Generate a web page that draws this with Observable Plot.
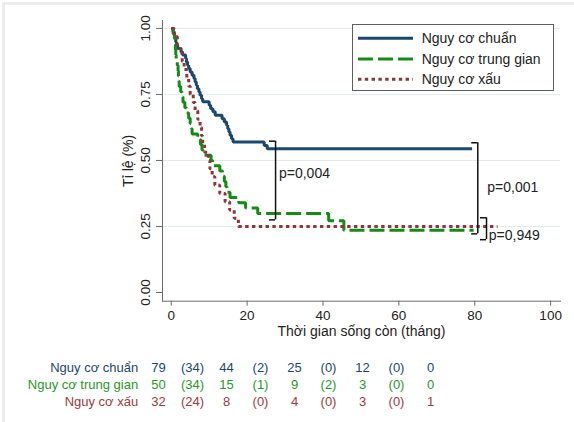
<!DOCTYPE html>
<html>
<head>
<meta charset="utf-8">
<script src="https://cdn.jsdelivr.net/npm/d3@7"></script>
<script src="https://cdn.jsdelivr.net/npm/@observablehq/plot@0.6"></script>
<style>
  body { margin: 0; background: #fff; font-family: "Liberation Sans", Arial, sans-serif; }
  #wrap { position: relative; width: 574px; height: 422px; overflow: hidden; background: #fff; }
  #edge { position: absolute; left: 2px; top: 2px; width: 600px; height: 450px; border-top: 3px solid #ececec; border-left: 3px solid #ececec; pointer-events: none; }
  #legend { position: absolute; left: 352px; top: 24px; width: 202px; height: 67px; box-sizing: border-box; border: 1px solid #5e5e5e; background: #fff; }
  #legend svg { display: block; }
  #chart svg, #risk svg { display: block; }
</style>
</head>
<body>
<div id="wrap">
  <div id="chart"></div>
  <div id="risk"></div>
  <div id="legend"></div>
  <div id="edge"></div>
</div>
<script>
// ---- Series (Kaplan–Meier step curves) ----
const seriesNames = ["Nguy cơ chuẩn", "Nguy cơ trung gian", "Nguy cơ xấu"];
const seriesColors = ["#1a476f", "#168a16", "#90353b"];
const seriesDash = ["none", "15,5", "3.4,3.4"];

const timeChuan = [0,0.5,0.8,1.0,1.2,1.4,1.7,2.6,3.0,3.8,4.0,4.3,4.6,5.0,5.5,6.0,6.3,6.6,6.9,7.3,7.6,8.0,8.3,10.0,10.4,11.0,11.6,13.4,14.0,14.6,14.9,15.2,15.5,15.9,16.3,24.5,25.3,79.3];
const survChuan = [1,0.987,0.975,0.962,0.949,0.937,0.924,0.911,0.899,0.886,0.873,0.861,0.848,0.835,0.823,0.810,0.797,0.785,0.772,0.759,0.747,0.734,0.722,0.709,0.696,0.684,0.671,0.658,0.646,0.633,0.620,0.608,0.595,0.582,0.570,0.557,0.544,0.544];

const timeTrungGian = [0,0.5,0.9,1.0,1.1,1.2,1.3,1.6,1.8,1.9,2.0,2.1,2.5,2.8,3.1,3.6,4.0,4.6,5.0,5.3,5.5,7.0,7.7,8.1,8.4,10.5,10.9,12.8,13.5,14.0,14.4,14.7,15.5,17.8,19.6,22.8,41.5,45.5,79.7];
const survTrungGian = [1,0.98,0.96,0.94,0.92,0.90,0.88,0.86,0.84,0.82,0.80,0.78,0.76,0.74,0.72,0.70,0.68,0.66,0.64,0.62,0.60,0.58,0.56,0.54,0.52,0.50,0.48,0.46,0.44,0.42,0.40,0.38,0.36,0.34,0.32,0.299,0.272,0.236,0.236];

const timeXau = [0,0.8,1.6,2.3,2.9,3.4,4.1,4.6,5.0,5.8,6.3,7.0,7.6,8.0,8.3,8.8,9.8,10.2,10.8,11.5,12.8,14.2,15.4,16.6,17.7,86];
const survXau = [1,0.969,0.938,0.906,0.875,0.844,0.812,0.781,0.75,0.719,0.688,0.656,0.625,0.594,0.562,0.531,0.50,0.469,0.438,0.406,0.375,0.344,0.312,0.281,0.25,0.25];

// ---- Axis ticks and titles ----
const xTicks = [0, 20, 40, 60, 80, 100];
const yTicks = [0, 0.25, 0.5, 0.75, 1];
const xTitle = "Thời gian sống còn (tháng)";
const yTitle = "Tỉ lệ (%)";

// ---- p-value brackets (data coordinates) ----
const bracketX = [27.5, 80.8, 83.1];
const bracketTop = [0.573, 0.567, 0.283];
const bracketBottom = [0.275, 0.222, 0.200];
const pLabels = ["p=0,004", "p=0,001", "p=0,949"];
const pLabelX = [28.4, 83.3, 83.7];
const pLabelY = [0.45, 0.399, 0.216];

// ---- Number-at-risk table ----
const riskColumns = ["0", "0–20", "20", "20–40", "40", "40–60", "60", "60–80", "80"];
const riskChuan = ["79", "(34)", "44", "(2)", "25", "(0)", "12", "(0)", "0"];
const riskTrungGian = ["50", "(34)", "15", "(1)", "9", "(2)", "3", "(0)", "0"];
const riskXau = ["32", "(24)", "8", "(0)", "4", "(0)", "3", "(0)", "1"];
const riskTextColors = ["#1a476f", "#1f9a1f", "#9a3b41"];

// ---- Build tables ----
const toRows = (times, surv) => times.map((t, i) => ({t, s: surv[i]}));
const curves = [toRows(timeChuan, survChuan), toRows(timeTrungGian, survTrungGian), toRows(timeXau, survXau)];
const brackets = bracketX.map((x, i) => ({x, top: bracketTop[i], bottom: bracketBottom[i], label: pLabels[i], lx: pLabelX[i], ly: pLabelY[i]}));
const serif = 1.6;
const font = '"Liberation Sans", Arial, sans-serif';

const lineMarks = curves.map((rows, i) => Plot.line(rows, {
  x: "t", y: "s", curve: "step-after",
  stroke: seriesColors[i], strokeWidth: 3,
  strokeDasharray: seriesDash[i],
  strokeLinecap: "butt", strokeLinejoin: "miter"
}));

const chart = Plot.plot({
  width: 574, height: 345,
  marginLeft: 162, marginRight: 14, marginTop: 20, marginBottom: 44.3,
  x: {domain: [-2.3, 102.6]},
  y: {domain: [-0.033, 1.03]},
  style: {fontFamily: font, fontSize: "13.5px", color: "#222", background: "transparent"},
  marks: [
    Plot.gridY(yTicks.filter(d => d > 0), {stroke: "#e0ecef", strokeOpacity: 1}),
    Plot.frame({anchor: "left", stroke: "#6a6a6a"}),
    Plot.frame({anchor: "bottom", stroke: "#6a6a6a"}),
    Plot.axisX(xTicks, {tickSize: 5, tickPadding: 4, label: null, stroke: "#6a6a6a", fontSize: 13.5}),
    Plot.axisY(yTicks, {tickSize: 6, tickFormat: () => "", label: null, stroke: "#6a6a6a"}),
    Plot.text(yTicks, {y: d => d, text: d => d3.format(".2f")(d), frameAnchor: "left", textAnchor: "middle", lineAnchor: "middle", dx: -17, rotate: -90, fontSize: 13.5, fill: "#222"}),
    Plot.text([yTitle], {frameAnchor: "left", textAnchor: "middle", lineAnchor: "middle", dx: -34, rotate: -90, fontSize: 14, fill: "#222"}),
    Plot.text([xTitle], {frameAnchor: "bottom", textAnchor: "middle", lineAnchor: "middle", dy: 30, fontSize: 14, fill: "#222"}),
    ...lineMarks,
    Plot.ruleX(brackets, {x: "x", y1: "top", y2: "bottom", stroke: "#111", strokeWidth: 1.5}),
    Plot.ruleY(brackets, {y: "top", x1: d => d.x - serif, x2: "x", stroke: "#111", strokeWidth: 1.5}),
    Plot.ruleY(brackets, {y: "bottom", x1: d => d.x - serif, x2: "x", stroke: "#111", strokeWidth: 1.5}),
    Plot.text(brackets, {x: "lx", y: "ly", text: "label", textAnchor: "start", lineAnchor: "middle", fontSize: 14, fill: "#222"})
  ]
});
document.getElementById("chart").appendChild(chart);

// ---- Risk table ----
const riskRows = [riskChuan, riskTrungGian, riskXau];
const cells = [];
riskRows.forEach((row, g) => row.forEach((v, j) => cells.push({group: seriesNames[g], col: riskColumns[j], text: v})));
const risk = Plot.plot({
  width: 574, height: 77,
  marginLeft: 155.7, marginRight: 142.3, marginTop: 21, marginBottom: 21,
  x: {type: "point", domain: riskColumns, padding: 0, axis: null},
  y: {type: "point", domain: seriesNames, padding: 0, axis: null},
  color: {domain: seriesNames, range: riskTextColors},
  style: {fontFamily: font, fontSize: "13px", background: "transparent"},
  marks: [
    Plot.text(cells, {x: "col", y: "group", text: "text", fill: "group", fontSize: 13}),
    Plot.text(seriesNames, {y: d => d, text: d => d, fill: d => d, frameAnchor: "left", textAnchor: "end", lineAnchor: "middle", dx: -18, fontSize: 13})
  ]
});
document.getElementById("risk").appendChild(risk);

// ---- Legend (inside plot area) ----
const lw = 200, lh = 65;
const leg = d3.select("#legend").append("svg").attr("width", lw).attr("height", lh);
const entryY = [13.3, 34, 54.3];
seriesNames.forEach((name, i) => {
  leg.append("line").attr("x1", 5).attr("x2", 60).attr("y1", entryY[i]).attr("y2", entryY[i])
    .attr("stroke", seriesColors[i]).attr("stroke-width", 3)
    .attr("stroke-dasharray", seriesDash[i]).attr("stroke-linecap", "butt");
  leg.append("text").attr("x", 68.7).attr("y", entryY[i]).attr("dy", "0.35em")
    .attr("font-family", font).attr("font-size", 14).attr("fill", "#222").text(name);
});
</script>
</body>
</html>
